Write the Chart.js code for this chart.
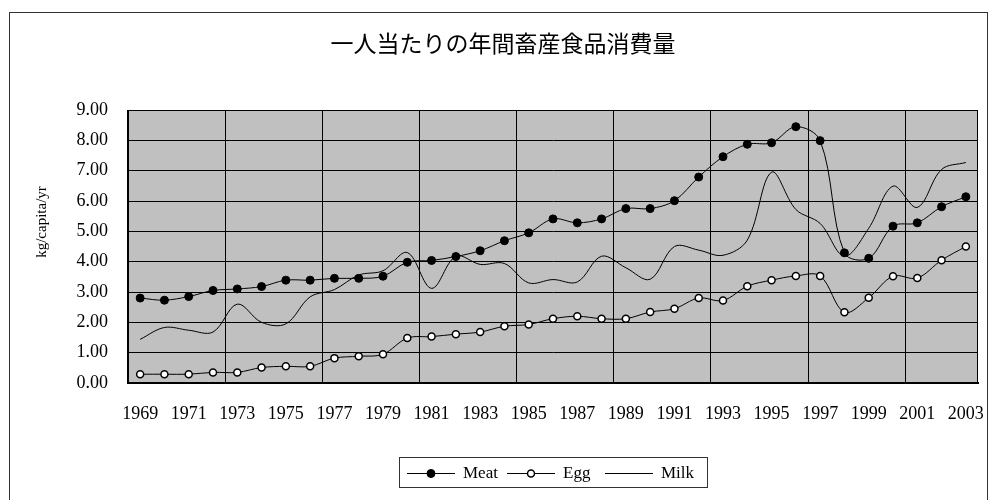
<!DOCTYPE html>
<html>
<head>
<meta charset="utf-8">
<script src="https://cdn.jsdelivr.net/npm/chart.js@4/dist/chart.umd.min.js"></script>
<style>
  html, body { margin: 0; padding: 0; background: #fff; }
  #wrap { width: 990px; height: 500px; }
</style>
</head>
<body>
<div id="wrap"><canvas id="c" width="990" height="500"></canvas></div>
<script>
const chartTitle = '一人当たりの年間畜産食品消費量';
const yAxisTitle = 'kg/capita/yr';
const categories = ['1969','1970','1971','1972','1973','1974','1975','1976','1977','1978',
  '1979','1980','1981','1982','1983','1984','1985','1986','1987','1988',
  '1989','1990','1991','1992','1993','1994','1995','1996','1997','1998',
  '1999','2000','2001','2002','2003'];
const seriesNames = ['Meat', 'Egg', 'Milk'];
const meat = [2.80, 2.73, 2.85, 3.05, 3.10, 3.18, 3.39, 3.39, 3.45, 3.45,
  3.52, 3.98, 4.04, 4.17, 4.36, 4.69, 4.95, 5.41, 5.28, 5.41,
  5.75, 5.75, 6.01, 6.79, 7.46, 7.87, 7.92, 8.45, 7.99, 4.29,
  4.11, 5.17, 5.28, 5.81, 6.14];
const egg = [0.29, 0.29, 0.29, 0.35, 0.35, 0.51, 0.55, 0.55, 0.82, 0.88,
  0.95, 1.48, 1.53, 1.61, 1.68, 1.87, 1.93, 2.12, 2.20, 2.12,
  2.12, 2.34, 2.45, 2.80, 2.72, 3.19, 3.39, 3.53, 3.53, 2.33,
  2.81, 3.52, 3.46, 4.05, 4.50];
const milk = [1.44, 1.83, 1.74, 1.68, 2.60, 2.00, 1.95, 2.84, 3.08, 3.56,
  3.70, 4.30, 3.12, 4.18, 3.91, 3.94, 3.30, 3.41, 3.33, 4.18,
  3.80, 3.42, 4.50, 4.38, 4.21, 4.71, 6.95, 5.72, 5.26, 4.18,
  5.10, 6.49, 5.79, 7.04, 7.27];
const yMin = 0, yMax = 9, yStep = 1;

const serif = '"Liberation Serif", "Times New Roman", serif';

const decorPlugin = {
  id: 'decor',
  beforeDraw(chart) {
    const { ctx, chartArea: a } = chart;
    ctx.save();
    ctx.fillStyle = '#ffffff';
    ctx.fillRect(0, 0, chart.width, chart.height);
    ctx.fillStyle = '#c0c0c0';
    ctx.fillRect(a.left, a.top, a.right - a.left, a.bottom - a.top);
    ctx.restore();
  },
  beforeDatasetsDraw(chart) {
    const { ctx, chartArea: a } = chart;
    ctx.save();
    ctx.strokeStyle = '#000';
    ctx.lineWidth = 1;
    ctx.beginPath();
    ctx.moveTo(Math.round(a.left) + 0.5, Math.round(a.bottom));
    ctx.lineTo(Math.round(a.left) + 0.5, Math.round(a.top) + 0.5);
    ctx.lineTo(Math.round(a.right) - 0.5, Math.round(a.top) + 0.5);
    ctx.lineTo(Math.round(a.right) - 0.5, Math.round(a.bottom));
    ctx.stroke();
    ctx.restore();
  },
  afterDraw(chart) {
    const { ctx } = chart;
    ctx.save();
    // outer frame
    ctx.strokeStyle = '#333';
    ctx.lineWidth = 1;
    ctx.strokeRect(9.5, 12.5, 978, 500);
    // title
    ctx.fillStyle = '#000';
    ctx.font = '23px "Noto Sans CJK JP"';
    ctx.textAlign = 'center';
    ctx.textBaseline = 'middle';
    ctx.fillText(chartTitle, 503, 43);
    // y axis title
    ctx.save();
    ctx.translate(42, 222);
    ctx.rotate(-Math.PI / 2);
    ctx.font = '15px ' + serif;
    ctx.fillText(yAxisTitle, 0, 0);
    ctx.restore();
    // legend
    ctx.strokeStyle = '#333';
    ctx.strokeRect(399.5, 457.5, 308, 30);
    const items = [
      { x: 407, ds: chart.data.datasets[0] },
      { x: 507, ds: chart.data.datasets[1] },
      { x: 605, ds: chart.data.datasets[2] }
    ];
    const ly = 473;
    ctx.font = '17px ' + serif;
    ctx.textAlign = 'left';
    items.forEach(it => {
      ctx.strokeStyle = '#000';
      ctx.lineWidth = 1;
      ctx.beginPath();
      ctx.moveTo(it.x, ly + 0.5);
      ctx.lineTo(it.x + 48, ly + 0.5);
      ctx.stroke();
      if (it.ds.pointRadius > 0) {
        ctx.beginPath();
        ctx.arc(it.x + 24, ly + 0.5, it.ds.pointRadius, 0, Math.PI * 2);
        ctx.fillStyle = it.ds.pointBackgroundColor;
        ctx.fill();
        ctx.lineWidth = it.ds.pointBorderWidth;
        ctx.strokeStyle = '#000';
        ctx.stroke();
      }
      ctx.fillStyle = '#000';
      ctx.fillText(it.ds.label, it.x + 56, ly + 1);
    });
    ctx.restore();
  }
};

function zeroPad(s) {
  s.paddingLeft = 0; s.paddingRight = 0; s.paddingTop = 0; s.paddingBottom = 0;
}

new Chart(document.getElementById('c'), {
  type: 'line',
  data: {
    labels: categories,
    datasets: [
      { label: seriesNames[0], data: meat, borderColor: '#000', borderWidth: 1,
        pointRadius: 4, pointBackgroundColor: '#000', pointBorderColor: '#000', pointBorderWidth: 1,
        tension: 0.35, fill: false },
      { label: seriesNames[1], data: egg, borderColor: '#000', borderWidth: 1,
        pointRadius: 3.5, pointBackgroundColor: '#fff', pointBorderColor: '#000', pointBorderWidth: 1.5,
        tension: 0.35, fill: false },
      { label: seriesNames[2], data: milk, borderColor: '#000', borderWidth: 1,
        pointRadius: 0, pointBackgroundColor: '#000', pointBorderWidth: 0,
        tension: 0.35, fill: false }
    ]
  },
  options: {
    responsive: false,
    animation: false,
    devicePixelRatio: 1,
    layout: { padding: { left: 0, top: 110, right: 12, bottom: 0 } },
    plugins: {
      legend: { display: false },
      title: { display: false },
      tooltip: { enabled: false }
    },
    scales: {
      x: {
        type: 'category',
        offset: true,
        afterFit(s) { s.height = 117; zeroPad(s); },
        grid: {
          offset: true,
          drawTicks: false,
          color: ctx => (ctx.index % 4 === 0 ? '#000' : 'rgba(0,0,0,0)'),
          lineWidth: 1
        },
        border: { display: true, color: '#000', width: 2 },
        ticks: {
          autoSkip: false,
          maxRotation: 0,
          minRotation: 0,
          padding: 20,
          color: '#000',
          font: { family: serif, size: 18 },
          callback(v, i) { return i % 2 === 0 ? categories[i] : ''; }
        }
      },
      y: {
        min: yMin,
        max: yMax,
        afterFit(s) { s.width = 128; zeroPad(s); },
        grid: { color: '#000', lineWidth: 1, drawTicks: false },
        border: { display: true, color: '#000', width: 1 },
        ticks: {
          stepSize: yStep,
          padding: 20,
          color: '#000',
          font: { family: serif, size: 18 },
          callback(v) { return Number(v).toFixed(2); }
        }
      }
    }
  },
  plugins: [decorPlugin]
});
</script>
</body>
</html>
